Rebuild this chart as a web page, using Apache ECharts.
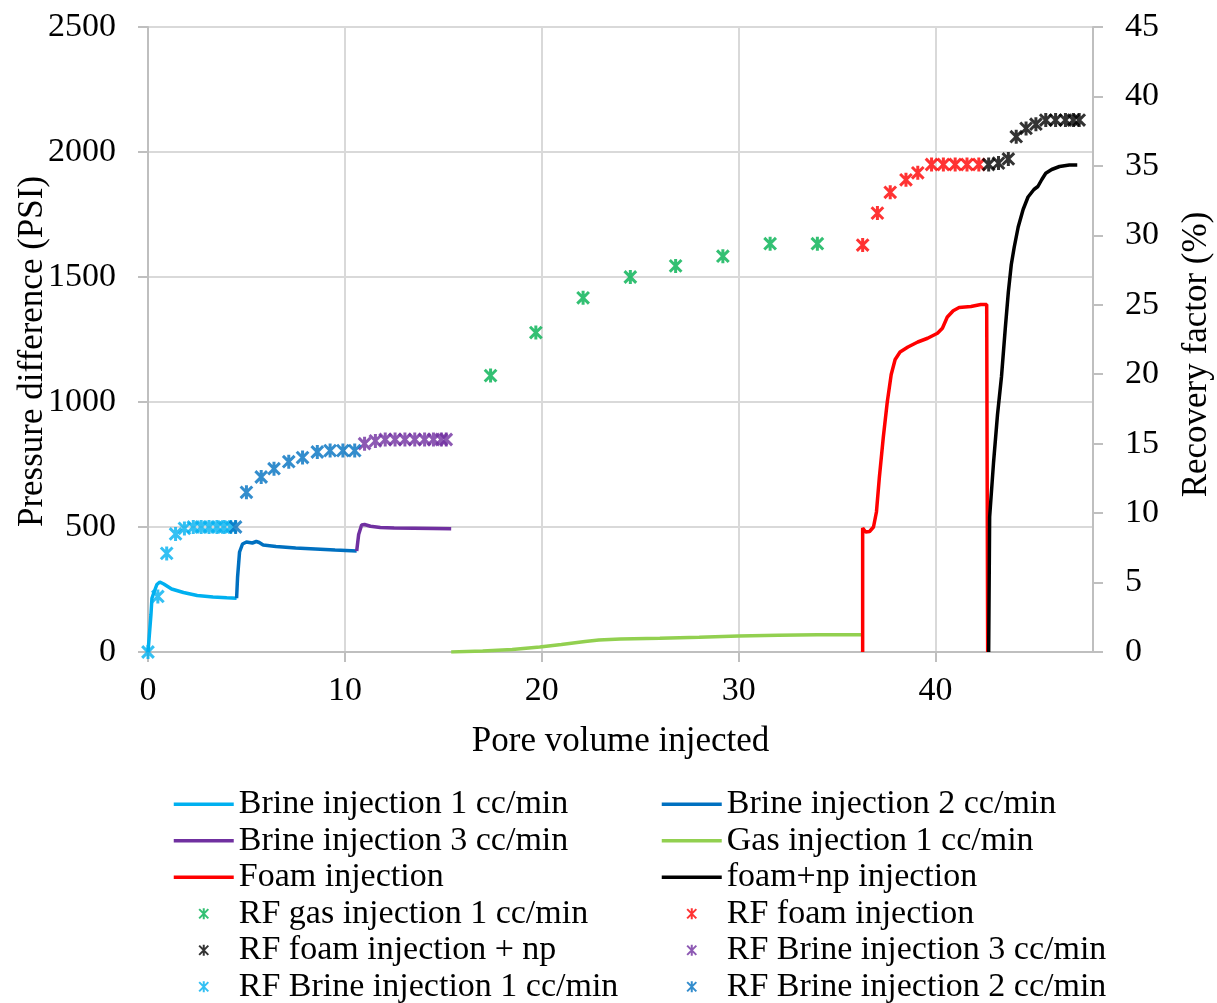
<!DOCTYPE html>
<html>
<head>
<meta charset="utf-8">
<script src="https://cdn.jsdelivr.net/npm/echarts@6/dist/echarts.min.js"></script>
<style>
  html, body { margin: 0; padding: 0; background: #fff; }
  #chart { width: 1217px; height: 1003px; }
</style>
</head>
<body>
<div id="chart"></div>
<script>
// pressure difference curves [pore volume, psi]
const brine1Line = [[0, 0], [0.1, 5], [0.15, 150], [0.2, 215], [0.3, 238], [0.45, 270], [0.6, 280], [0.8, 272], [1.2, 252], [1.8, 238], [2.5, 226], [3.3, 220], [4.0, 217], [4.5, 215]];
const brine2Line = [[4.5, 215], [4.55, 300], [4.65, 400], [4.8, 432], [5.0, 440], [5.3, 436], [5.5, 442], [5.65, 438], [5.85, 428], [6.5, 422], [7.5, 416], [8.5, 412], [9.5, 408], [10.6, 404]];
const brine3Line = [[10.6, 404], [10.7, 470], [10.85, 508], [11.0, 510], [11.3, 503], [11.8, 498], [12.5, 496], [13.5, 495], [14.5, 494], [15.4, 493]];
const gasLine = [[15.4, 0], [17, 4], [18.5, 10], [19.9, 20], [21, 30], [22.2, 42], [22.9, 48], [24, 52], [26, 55], [28, 59], [30, 64], [32, 67], [34, 69], [36.3, 69]];
const foamLine = [[36.3, 0], [36.3, 496], [36.45, 480], [36.65, 482], [36.85, 500], [37.0, 560], [37.15, 700], [37.35, 860], [37.55, 1000], [37.75, 1110], [37.95, 1170], [38.2, 1200], [38.6, 1220], [39.1, 1240], [39.6, 1255], [40.1, 1275], [40.35, 1295], [40.6, 1340], [40.9, 1365], [41.2, 1378], [41.8, 1382], [42.3, 1390], [42.6, 1390], [42.65, 0]];
const foamNpLine = [[42.7, 0], [42.75, 540], [42.95, 760], [43.15, 950], [43.35, 1100], [43.55, 1300], [43.7, 1440], [43.85, 1550], [44.0, 1620], [44.2, 1700], [44.45, 1770], [44.7, 1820], [45.0, 1850], [45.2, 1862], [45.4, 1890], [45.6, 1915], [45.9, 1930], [46.3, 1942], [46.8, 1948], [47.2, 1948]];

// recovery factor points [pore volume, %]
const rfBrine1 = [[0, 0], [0.5, 4], [0.95, 7.1], [1.4, 8.5], [1.85, 8.9], [2.3, 9.0], [2.7, 9.0], [3.1, 9.0], [3.5, 9.0], [3.85, 9.0], [4.2, 9.0]];
const rfBrine2 = [[4.45, 9.0], [5.0, 11.5], [5.75, 12.6], [6.4, 13.2], [7.15, 13.7], [7.85, 14.0], [8.6, 14.4], [9.25, 14.5], [9.9, 14.5], [10.5, 14.5]];
const rfBrine3 = [[11.0, 15.0], [11.55, 15.2], [12.05, 15.3], [12.55, 15.3], [13.05, 15.3], [13.55, 15.3], [14.05, 15.3], [14.5, 15.3], [14.9, 15.3], [15.15, 15.3]];
const rfGas = [[17.4, 19.9], [19.7, 23.0], [22.1, 25.5], [24.5, 27.0], [26.8, 27.8], [29.2, 28.5], [31.6, 29.4], [34.0, 29.4]];
const rfFoam = [[36.3, 29.3], [37.05, 31.6], [37.7, 33.1], [38.5, 34.0], [39.1, 34.5], [39.8, 35.1], [40.4, 35.1], [41.0, 35.1], [41.6, 35.1], [42.2, 35.1]];
const rfFoamNp = [[42.7, 35.1], [43.2, 35.2], [43.7, 35.5], [44.1, 37.1], [44.6, 37.7], [45.1, 38.0], [45.6, 38.3], [46.1, 38.3], [46.6, 38.3], [47.0, 38.3], [47.3, 38.3]];

const legendLeft = ["Brine injection 1 cc/min", "Brine injection 3 cc/min", "Foam injection", "RF gas injection 1 cc/min", "RF foam injection + np", "RF Brine injection 1 cc/min"];
const legendRight = ["Brine injection 2 cc/min", "Gas injection 1 cc/min", "foam+np injection", "RF foam injection", "RF Brine injection 3 cc/min", "RF Brine injection 2 cc/min"];

const FONT = "Liberation Serif";
const STAR = "path://M0,0L10,10M10,0L0,10M5,-1L5,11";

function lineSeries(name, data, color) {
  return {
    name: name,
    type: "line",
    xAxisIndex: 0,
    yAxisIndex: 0,
    data: data,
    symbol: "none",
    showSymbol: false,
    color: color,
    lineStyle: { color: color, width: 3.5 },
    z: 2
  };
}

function rfSeries(name, data, color) {
  return {
    name: name,
    type: "scatter",
    xAxisIndex: 0,
    yAxisIndex: 1,
    data: data,
    symbol: STAR,
    symbolSize: 14,
    symbolKeepAspect: true,
    itemStyle: { color: color, borderColor: color, borderWidth: 3 },
    z: 3
  };
}

// line entries get no dot in the legend, only the stroke
function legendItems(names) {
  return names.map(function (n) {
    if (n.indexOf("RF ") === 0) return n;
    return { name: n, itemStyle: { opacity: 0 } };
  });
}

const legendBase = {
  orient: "vertical",
  itemWidth: 60,
  itemHeight: 11,
  itemGap: 0,
  padding: 0,
  height: 240,
  selectedMode: false,
  textStyle: { fontFamily: FONT, fontSize: 34, color: "#000", lineHeight: 36.5 },
  lineStyle: { width: 3.5 }
};

const gridColor = "#d9d9d9";
const axisColor = "#bfbfbf";
const plain = function (v) { return String(v); };

const option = {
  animation: false,
  backgroundColor: "#fff",
  grid: { left: 148, right: 124, top: 27, bottom: 351, outerBoundsMode: "none", containLabel: false },
  legend: [
    Object.assign({}, legendBase, { left: 172, top: 786, data: legendItems(legendLeft) }),
    Object.assign({}, legendBase, { left: 660, top: 786, data: legendItems(legendRight) })
  ],
  xAxis: {
    type: "value",
    min: 0,
    max: 48,
    interval: 10,
    name: "Pore volume injected",
    nameLocation: "middle",
    nameGap: 72,
    nameMoveOverlap: false,
    nameTextStyle: { fontFamily: FONT, fontSize: 35, color: "#000" },
    axisLine: { onZero: false, lineStyle: { color: axisColor, width: 2 } },
    axisTick: { show: true, length: 10, lineStyle: { color: axisColor, width: 2 } },
    axisLabel: { fontFamily: FONT, fontSize: 34, color: "#000", margin: 22, showMaxLabel: false, formatter: plain },
    splitLine: { show: true, lineStyle: { color: gridColor, width: 2 } }
  },
  yAxis: [
    {
      type: "value",
      min: 0,
      max: 2500,
      interval: 500,
      name: "Pressure difference (PSI)",
      nameLocation: "middle",
      nameGap: 98,
      nameMoveOverlap: false,
      nameTextStyle: { fontFamily: FONT, fontSize: 35, color: "#000", padding: [0, 24, 0, 0] },
      axisLine: { show: true, lineStyle: { color: axisColor, width: 2 } },
      axisTick: { show: true, length: 10, lineStyle: { color: axisColor, width: 2 } },
      axisLabel: { fontFamily: FONT, fontSize: 34, color: "#000", margin: 32, formatter: plain },
      splitLine: { show: true, lineStyle: { color: gridColor, width: 2 } }
    },
    {
      type: "value",
      min: 0,
      max: 45,
      interval: 5,
      position: "right",
      name: "Recovery factor (%)",
      nameLocation: "middle",
      nameGap: 86,
      nameRotate: 90,
      nameMoveOverlap: false,
      nameTextStyle: { fontFamily: FONT, fontSize: 35, color: "#000", padding: [0, 30, 0, 0] },
      axisLine: { show: true, lineStyle: { color: axisColor, width: 2 } },
      axisTick: { show: true, length: 10, lineStyle: { color: axisColor, width: 2 } },
      axisLabel: { fontFamily: FONT, fontSize: 34, color: "#000", margin: 32, formatter: plain },
      splitLine: { show: false }
    }
  ],
  series: [
    lineSeries("Brine injection 1 cc/min", brine1Line, "#00B0F0"),
    lineSeries("Brine injection 2 cc/min", brine2Line, "#0070C0"),
    lineSeries("Brine injection 3 cc/min", brine3Line, "#7030A0"),
    lineSeries("Gas injection 1 cc/min", gasLine, "#92D050"),
    lineSeries("Foam injection", foamLine, "#FF0000"),
    lineSeries("foam+np injection", foamNpLine, "#000000"),
    rfSeries("RF gas injection 1 cc/min", rfGas, "#00B050"),
    rfSeries("RF foam injection", rfFoam, "#FF0000"),
    rfSeries("RF foam injection + np", rfFoamNp, "#000000"),
    rfSeries("RF Brine injection 3 cc/min", rfBrine3, "#7030A0"),
    rfSeries("RF Brine injection 1 cc/min", rfBrine1, "#00B0F0"),
    rfSeries("RF Brine injection 2 cc/min", rfBrine2, "#0070C0")
  ]
};

const chart = echarts.init(document.getElementById("chart"));
chart.setOption(option);
</script>
</body>
</html>
